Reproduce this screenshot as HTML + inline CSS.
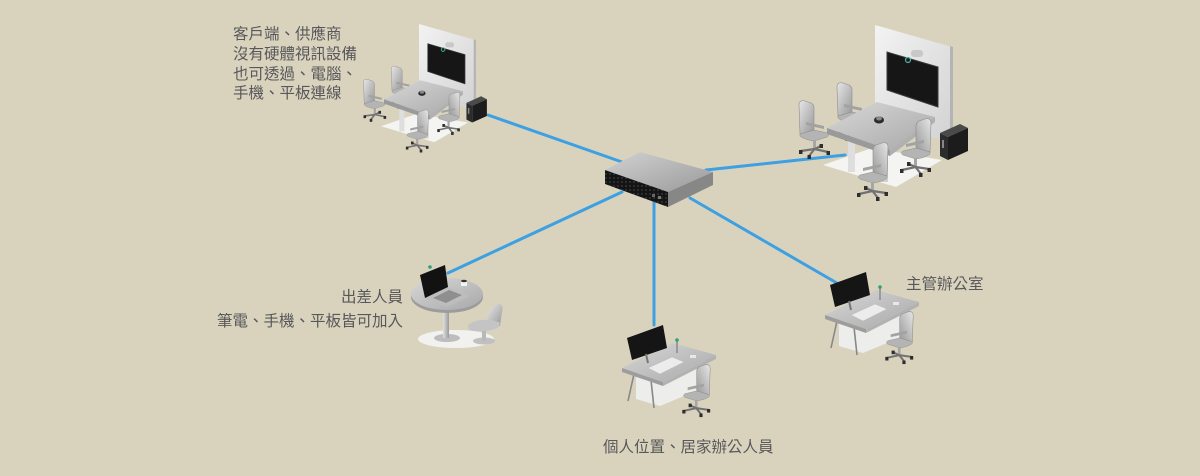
<!DOCTYPE html>
<html><head><meta charset="utf-8">
<style>
html,body{margin:0;padding:0;background:#d9d3be;}
body{width:1200px;height:476px;position:relative;overflow:hidden;}
svg{position:absolute;left:0;top:0;display:block;}
</style></head><body>
<svg width="1200" height="476" viewBox="0 0 1200 476" xmlns="http://www.w3.org/2000/svg">
<defs>
 <linearGradient id="cg" x1="0" y1="0" x2="1" y2="1"><stop offset="0" stop-color="#e6e6e6"/><stop offset="1" stop-color="#989898"/></linearGradient>
 <linearGradient id="wg" x1="0" y1="0" x2="1" y2="1"><stop offset="0" stop-color="#f3f3f3"/><stop offset="1" stop-color="#d2d2d2"/></linearGradient>
 <linearGradient id="tg" x1="0" y1="0" x2="1" y2="1"><stop offset="0" stop-color="#d8d8d8"/><stop offset="1" stop-color="#a8a8a8"/></linearGradient>
 <linearGradient id="sg" x1="0" y1="0" x2="1" y2="1"><stop offset="0" stop-color="#d2d2d2"/><stop offset="1" stop-color="#9a9a9a"/></linearGradient>
 <linearGradient id="stemg" x1="0" y1="0" x2="1" y2="0"><stop offset="0" stop-color="#e0e0e0"/><stop offset="1" stop-color="#9a9a9a"/></linearGradient>
 <pattern id="vent" width="4" height="4" patternUnits="userSpaceOnUse"><rect width="4" height="4" fill="#141414"/><circle cx="2" cy="2" r="0.9" fill="#3e3e3e"/></pattern>

 <g id="chair">
  <path d="M2,5 C2,1 5,0 8,1 L14,3 C16,4 17,6 17,8 L17,30 L3,34 Z" fill="url(#cg)" stroke="#8c8c8c" stroke-width="0.6"/>
  <path d="M3,34 L17,30 L30,33 C32,34 32,36 30,37 L17,41 C10,40 5,38 3,36 Z" fill="#b4b4b4" stroke="#8c8c8c" stroke-width="0.5"/>
  <path d="M9,22 L27,26 L27,29 L9,25 Z" fill="#a2a2a2"/>
  <rect x="16" y="40" width="3" height="9" fill="#a6a6a6"/>
  <path d="M17.5,49 L4,51 M17.5,49 L31,52 M17.5,49 L12,56 M17.5,49 L24,46" stroke="#727272" stroke-width="2.2" stroke-linecap="round"/>
  <rect x="2" y="50" width="3.5" height="4" fill="#2e2e2e"/>
  <rect x="29.5" y="51" width="3.5" height="4" fill="#2e2e2e"/>
  <rect x="10.5" y="55" width="3.5" height="4" fill="#2e2e2e"/>
  <rect x="22.5" y="44" width="3.5" height="4" fill="#2e2e2e"/>
 </g>

 <g id="room">
  <polygon points="875,25 952,47 952,143 875,121" fill="url(#wg)"/>
  <polygon points="950,46 953,47 953,143 950,142" fill="#b4b4b4"/>
  <polygon points="823,165 872,148 942,160 896,187" fill="#f4f4f2"/>
  <polygon points="887,52 938,67 938,107 887,90" fill="#161616" stroke="#3a3a3a" stroke-width="1"/>
  <rect x="911" y="50" width="12" height="7" rx="3" fill="#c8c8c8"/>
  <circle cx="908" cy="60" r="2.5" fill="#1a1a1a" stroke="#4fb5a0" stroke-width="1.2"/>
  <use href="#chair" transform="translate(835,82)"/>
  <use href="#chair" transform="translate(797,100)"/>
  <rect x="848" y="138" width="7" height="34" fill="#dedede"/>
  <rect x="880" y="148" width="8" height="34" fill="#d0d0d0"/>
  <polygon points="827,128 877,102 935,117 890,150" fill="url(#tg)"/>
  <polygon points="827,128 890,150 890,156 827,134" fill="#9a9a9a"/>
  <polygon points="890,150 935,117 935,122 890,156" fill="#b0b0b0"/>
  <ellipse cx="879" cy="120" rx="5" ry="3.5" fill="#2a2a2a"/>
  <ellipse cx="879" cy="118.5" rx="3" ry="2" fill="#888"/>
  <use href="#chair" transform="translate(933,118) scale(-1,1)"/>
  <use href="#chair" transform="translate(890,142) scale(-1,1)"/>
  <polygon points="940,133 960,124 968,128 948,137" fill="#4a4a4a"/>
  <polygon points="940,133 948,137 948,160 940,156" fill="#2c2c2c"/>
  <polygon points="948,137 968,128 968,151 948,160" fill="#1c1c1c"/>
  <rect x="942" y="140" width="2" height="8" fill="#888"/>
 </g>

 <g id="desk">
  <polygon points="636,376 703,357 703,388 660,406 636,399" fill="#ededeb"/>
  <path d="M634,374 L628,401 M651,380 L654,408" stroke="#888" stroke-width="1.6"/>
  <polygon points="622,368 673,343 716,355 663,382" fill="url(#tg)"/>
  <polygon points="622,368 663,382 663,386 622,372" fill="#9d9d9d"/>
  <polygon points="663,382 716,355 716,359 663,386" fill="#b2b2b2"/>
  <polygon points="648,368 672,357 684,362 660,374" fill="#ececec" stroke="#bdbdbd" stroke-width="0.5"/>
  <polygon points="627,338 663,325 667,348 632,360" fill="#151515"/>
  <path d="M646,354 L648,363" stroke="#777" stroke-width="2"/>
  <line x1="677" y1="341" x2="677" y2="353" stroke="#9a9a9a" stroke-width="2"/>
  <circle cx="677" cy="340" r="1.8" fill="#2aa27a"/>
  <rect x="690" y="355" width="6" height="3" fill="#e8e8e8"/>
  <use href="#chair" transform="translate(712,364) scale(-0.9,0.9)"/>
 </g>
</defs>

<!-- connectors -->
<g stroke="#3da0e2" stroke-width="3" stroke-linecap="round" fill="none">
 <line x1="488" y1="115" x2="622" y2="162"/>
 <line x1="706" y1="170" x2="845" y2="155"/>
 <line x1="622" y1="192" x2="448" y2="273"/>
 <line x1="654" y1="200" x2="654" y2="325"/>
 <line x1="690" y1="198" x2="842" y2="286"/>
</g>

<!-- rooms -->
<use href="#room"/>
<use href="#room" transform="matrix(0.73 0 0 0.73 -219.75 5.75)"/>

<!-- desks -->
<use href="#desk"/>
<use href="#desk" transform="translate(203,-53)"/>

<!-- laptop table -->
<ellipse cx="456" cy="339" rx="38" ry="9" fill="#f1f1ef"/>
<ellipse cx="447" cy="338" rx="13" ry="4" fill="#bdbdbd"/>
<rect x="443" y="307" width="6" height="31" fill="url(#stemg)"/>
<ellipse cx="447" cy="297" rx="36" ry="16" fill="#9c9c9c"/>
<ellipse cx="447" cy="294" rx="36" ry="16" fill="url(#tg)"/>
<polygon points="425,298 448,287 470,296 447,307" fill="#bdbdbd"/>
<polygon points="433,298 449,290 462,295 446,303" fill="#8f8f8f"/>
<polygon points="420,275 445,265 448,287 425,298" fill="#121212"/>
<circle cx="430" cy="267" r="1.8" fill="#2aa27a"/>
<rect x="461" y="281" width="6" height="5" fill="#f4f4f4"/>
<ellipse cx="464" cy="281" rx="3" ry="1.2" fill="#333"/>
<ellipse cx="484" cy="341" rx="11" ry="3.5" fill="#c0c0c0"/>
<rect x="482" y="326" width="4" height="15" fill="#b8b8b8"/>
<path d="M488,322 C487,312 492,305 500,304 C503,305 503,309 502,312 L500,326 Z" fill="url(#cg)"/>
<path d="M468,325 C475,319 490,318 500,323 L498,328 C488,332 475,332 469,330 Z" fill="#c4c4c4"/>

<!-- switch -->
<polygon points="605,170 640,152 713,172 668,192" fill="url(#sg)"/>
<polygon points="605,170 668,192 668,207 605,184" fill="url(#vent)"/>
<polygon points="668,192 713,172 713,185 668,207" fill="#878787"/>
<rect x="652" y="194" width="3" height="3" fill="#666"/>
<rect x="658" y="196" width="3" height="3" fill="#777"/>

<!-- labels -->
<g font-family="'Liberation Sans','Noto Sans CJK TC',sans-serif" font-size="15.5" fill="#58585a">
 <text x="233" y="39">客戶端、供應商</text>
 <text x="233" y="59">沒有硬體視訊設備</text>
 <text x="233" y="79">也可透過、電腦、</text>
 <text x="233" y="98">手機、平板連線</text>
 <text x="403" y="302" text-anchor="end">出差人員</text>
 <text x="403" y="326" text-anchor="end">筆電、手機、平板皆可加入</text>
 <text x="906" y="289">主管辦公室</text>
 <text x="603" y="452">個人位置、居家辦公人員</text>
</g>
</svg>
</body></html>
